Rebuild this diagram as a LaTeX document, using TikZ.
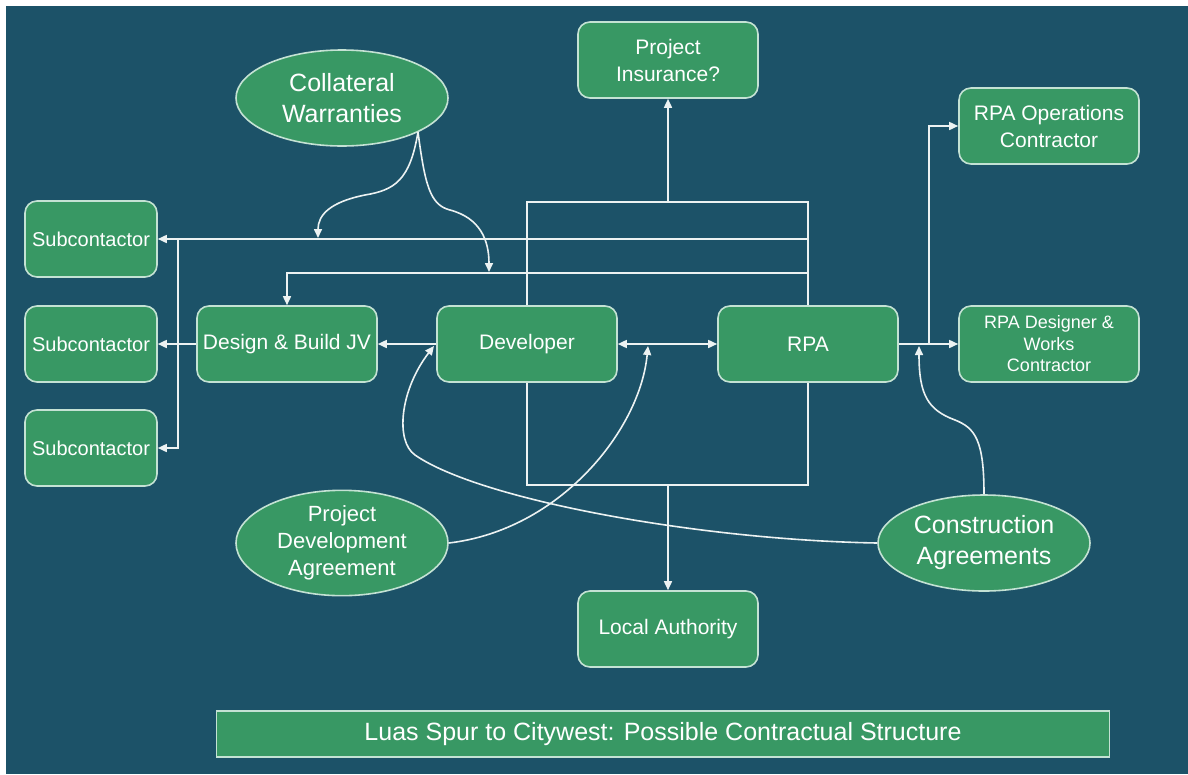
\documentclass[tikz,border=0pt]{standalone}
\usepackage{fontspec}
\setmainfont{Liberation Sans}
\usetikzlibrary{arrows.meta,shapes.geometric}
\definecolor{bgteal}{RGB}{28,82,104}
\definecolor{boxgreen}{RGB}{56,152,100}
\definecolor{boxrim}{RGB}{196,226,212}
\definecolor{wirecol}{RGB}{236,242,242}

\begin{document}
\begin{tikzpicture}[x=1pt, y=-1pt,
    party/.style={draw=boxrim, line width=1.6pt, fill=boxgreen, rounded corners=12pt, minimum width=180pt, minimum height=76pt, inner sep=2pt, align=center, text=white, font=\fontsize{21}{27}\selectfont},
    sub/.style={party, minimum width=132pt, font=\fontsize{20}{24}\selectfont},
    deal/.style={ellipse, draw=boxrim, line width=1.6pt, fill=boxgreen, minimum width=212pt, minimum height=96pt, inner sep=0pt, align=center, text=white, font=\fontsize{25}{31}\selectfont},
    link/.style={draw=wirecol, line width=1.6pt},
    arr/.style={link, -{Triangle[length=9pt,width=8pt]}},
    arrs/.style={link, {Triangle[length=9pt,width=8pt]}-{Triangle[length=9pt,width=8pt]}}]

    % background
    \useasboundingbox (0,0) rectangle (1188,774);
    \fill[white] (0,0) rectangle (1188,774);
    \fill[bgteal] (6,6) rectangle (1188,774);

    % parties
    \node[party] (ins) at (668,60) {Project\\Insurance?};
    \node[party] (dev) at (527,344) {Developer};
    \node[party] (rpa) at (808,344) {RPA};
    \node[party] (dbjv) at (287,344) {Design \& Build JV};
    \node[party] (local) at (668,629) {Local Authority};
    \node[party] (rpaops) at (1049,126) {RPA Operations\\Contractor};
    \node[party, font=\fontsize{18}{21.5}\selectfont] (rpades) at (1049,344) {RPA Designer \&\\Works\\Contractor};
    \node[sub] (sub1) at (91,239) {Subcontactor};
    \node[sub] (sub2) at (91,344) {Subcontactor};
    \node[sub] (sub3) at (91,448) {Subcontactor};

    % agreements
    \node[deal] (cw) at (342,98) {Collateral\\Warranties};
    \node[deal, font=\fontsize{22}{27}\selectfont] (pda) at (342,543) {Project\\Development\\Agreement};
    \node[deal] (ca) at (984,543) {Construction\\Agreements};

    \node[draw=boxrim, line width=1.6pt, fill=boxgreen, minimum width=893pt, minimum height=46pt, text=white, font=\fontsize{25}{30}\selectfont] (title) at (663,734) {Luas Spur to Citywest: Possible Contractual Structure};

    % junction points
    \coordinate (top) at (668,202);
    \coordinate (bot) at (668,485);
    \coordinate (line1) at (808,239);
    \coordinate (line2) at (808,273);
    \coordinate (trunk) at (178,239);
    \coordinate (fork) at (929,344);
    \coordinate (cwfoot) at (418,132);
    \coordinate (cwtip1) at (318,238);
    \coordinate (cwtip2) at (489,272);
    \coordinate (pdatip) at (648,346);
    \coordinate (catip1) at (434,346);
    \coordinate (catip2) at (919,346);

    % frame round developer and rpa
    \draw[link] (dev.north) |- (top) -| (rpa.north);
    \draw[link] (dev.south) |- (bot) -| (rpa.south);
    \draw[arr] (top) -- (ins.south);
    \draw[arr] (bot) -- (local.north);

    \draw[arr] (line1) -- (sub1.east);
    \draw[arr] (trunk) |- (sub3.east);
    \draw[arr] (line2) -| (dbjv.north);
    \draw[arr] (dbjv.west) -- (sub2.east);
    \draw[arr] (dev.west) -- (dbjv.east);
    \draw[arrs] (dev.east) -- (rpa.west);
    \draw[arr] (rpa.east) -- (rpades.west);
    \draw[arr] (fork) |- (rpaops.west);

    % agreement curves
    \draw[arr] (cwfoot) .. controls (410,180) and (395,190) .. (365,195) .. controls (330,202) and (318,215) .. (cwtip1);
    \draw[arr] (cwfoot) .. controls (425,185) and (430,205) .. (450,210) .. controls (480,218) and (489,240) .. (cwtip2);
    \draw[arr] (pda.east) .. controls (560,530) and (640,430) .. (pdatip);
    \draw[arr] (ca.west) .. controls (700,540) and (480,500) .. (415,455) .. controls (395,441) and (400,390) .. (catip1);
    \draw[arr] (ca.north) .. controls (984,440) and (975,428) .. (955,420) .. controls (928,410) and (919,395) .. (catip2);
\end{tikzpicture}
\end{document}
